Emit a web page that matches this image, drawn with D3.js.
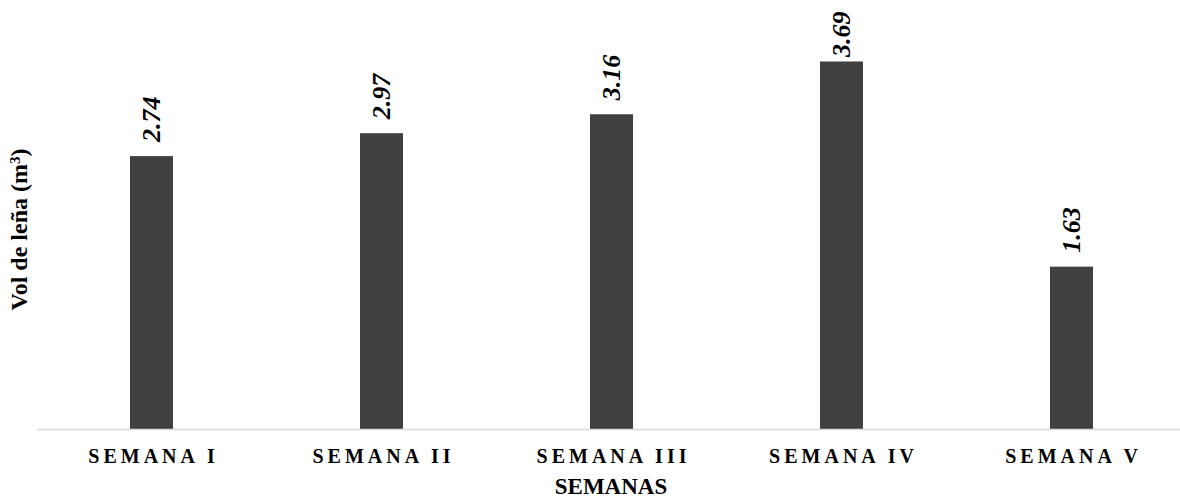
<!DOCTYPE html>
<html>
<head>
<meta charset="utf-8">
<script src="https://cdn.jsdelivr.net/npm/d3@7"></script>
<style>
  html, body { margin: 0; padding: 0; background: #ffffff; }
  svg { display: block; }
</style>
</head>
<body>
<svg id="chart" width="1180" height="499"></svg>
<script>
// Weekly firewood volume
const semanas = ["SEMANA I", "SEMANA II", "SEMANA III", "SEMANA IV", "SEMANA V"];
const volumen = [2.74, 2.97, 3.16, 3.69, 1.63];
const valueLabels = ["2.74", "2.97", "3.16", "3.69", "1.63"];

const svg = d3.select("#chart");
const left = 36.5, right = 1186.5, baseY = 429, topY = 30.6;
const serif = "'Liberation Serif', 'Times New Roman', Times, serif";

const x = d3.scaleBand()
  .domain(semanas)
  .range([left, right])
  .paddingInner(0.813)
  .paddingOuter(0.4065);

const y = d3.scaleLinear()
  .domain([0, 4])
  .range([baseY, topY]);

const data = semanas.map((s, i) => ({ s, v: volumen[i], label: valueLabels[i] }));

// bars
svg.append("g")
  .selectAll("rect")
  .data(data)
  .join("rect")
  .attr("x", d => x(d.s))
  .attr("y", d => y(d.v))
  .attr("width", x.bandwidth())
  .attr("height", d => y(0) - y(d.v))
  .attr("fill", "#404040");

// x axis
const ls = 4;
const xAxis = svg.append("g")
  .attr("transform", `translate(0,${baseY})`)
  .call(d3.axisBottom(x).tickSize(0).tickPadding(0));
xAxis.select(".domain")
  .attr("stroke", "#d9d9d9")
  .attr("stroke-width", 1.5);
xAxis.selectAll(".tick text")
  .attr("y", 34)
  .attr("dy", 0)
  .attr("dx", ls / 2)
  .attr("fill", "#000")
  .style("font-family", serif)
  .style("font-weight", "bold")
  .style("font-size", "20px")
  .style("letter-spacing", ls + "px");

// value labels, rotated; kept inside the top edge
svg.append("g")
  .selectAll("text")
  .data(data)
  .join("text")
  .attr("transform", d => {
    const cx = x(d.s) + x.bandwidth() / 2;
    const ty = Math.max(y(d.v) - 14, 57);
    return `translate(${cx},${ty}) rotate(-90)`;
  })
  .attr("dy", "0.34em")
  .attr("text-anchor", "start")
  .style("font-family", serif)
  .style("font-weight", "bold")
  .style("font-style", "italic")
  .style("font-size", "26px")
  .attr("fill", "#000")
  .text(d => d.label);

// axis titles
svg.append("text")
  .attr("x", (left + right) / 2 - 0.5)
  .attr("y", 494)
  .attr("text-anchor", "middle")
  .style("font-family", serif)
  .style("font-weight", "bold")
  .style("font-size", "23px")
  .attr("fill", "#000")
  .text("SEMANAS");

const yTitle = svg.append("text")
  .attr("transform", "translate(27,229.5) rotate(-90)")
  .attr("text-anchor", "middle")
  .style("font-family", serif)
  .style("font-weight", "bold")
  .style("font-size", "24px")
  .attr("fill", "#000");
yTitle.append("tspan").text("Vol de leña (m");
yTitle.append("tspan").attr("dy", "-0.45em").style("font-size", "15px").text("3");
yTitle.append("tspan").attr("dy", "0.3em").text(")");
</script>
</body>
</html>
